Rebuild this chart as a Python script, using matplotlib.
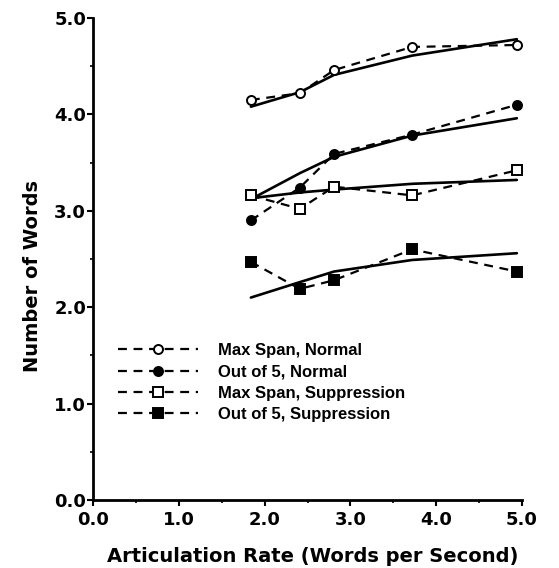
import matplotlib
matplotlib.use("Agg")
import matplotlib.pyplot as plt
from matplotlib.ticker import MultipleLocator, FormatStrFormatter

# ---- data ----
rate = [1.84, 2.41, 2.81, 3.72, 4.94]

max_span_normal = [4.15, 4.22, 4.46, 4.70, 4.72]
out5_normal = [2.90, 3.24, 3.59, 3.79, 4.10]
max_span_supp = [3.16, 3.02, 3.25, 3.16, 3.42]
out5_supp = [2.47, 2.19, 2.28, 2.60, 2.37]

# fitted (solid) curves, read at the same rates
fit_max_span_normal = [4.08, 4.23, 4.41, 4.61, 4.78]
fit_out5_normal = [3.12, 3.39, 3.56, 3.78, 3.96]
fit_max_span_supp = [3.13, 3.19, 3.22, 3.28, 3.32]
fit_out5_supp = [2.10, 2.26, 2.37, 2.49, 2.56]

labels = ["Max Span, Normal", "Out of 5, Normal",
          "Max Span, Suppression", "Out of 5, Suppression"]
xticks = [0, 1, 2, 3, 4, 5]
yticks = [0, 1, 2, 3, 4, 5]

# ---- figure ----
W, H = 559, 568
fig = plt.figure(figsize=(W / 100, H / 100), dpi=100)
ax = fig.add_axes([93 / W, 68 / H, 429 / W, 482 / H])

series = [max_span_normal, out5_normal, max_span_supp, out5_supp]
fits = [fit_max_span_normal, fit_out5_normal, fit_max_span_supp, fit_out5_supp]
markers = ["o", "o", "s", "s"]
faces = ["white", "black", "white", "black"]

handles = []
for ys, fy, m, fc, lab in zip(series, fits, markers, faces, labels):
    ax.plot(rate, fy, color="black", lw=1.9, solid_capstyle="round", zorder=2)
    h, = ax.plot(rate, ys, color="black", lw=1.6, ls=(0, (4, 3)),
                 marker=m, markerfacecolor=fc, markeredgecolor="black",
                 markeredgewidth=1.4, markersize=6.5, label=lab, zorder=3)
    handles.append(h)

ax.set_xlim(0, 5)
ax.set_ylim(0, 5)
ax.set_xticks(xticks)
ax.set_yticks(yticks)
ax.xaxis.set_minor_locator(MultipleLocator(0.5))
ax.yaxis.set_minor_locator(MultipleLocator(0.5))
ax.xaxis.set_major_formatter(FormatStrFormatter("%.1f"))
ax.yaxis.set_major_formatter(FormatStrFormatter("%.1f"))

for s in ["top", "right"]:
    ax.spines[s].set_visible(False)
for s in ["left", "bottom"]:
    ax.spines[s].set_linewidth(2.0)

ax.tick_params(which="major", direction="out", length=4, width=1.5,
               labelsize=13)
ax.tick_params(axis="x", which="major", pad=4)
ax.tick_params(axis="y", which="major", pad=1)
ax.tick_params(which="minor", direction="out", length=2.5, width=1.2)
for lab in ax.get_xticklabels() + ax.get_yticklabels():
    lab.set_fontweight("bold")
    lab.set_family("DejaVu Sans")

fig.text(313 / W, 1 - 556 / H, "Articulation Rate (Words per Second)",
         fontsize=14, fontweight="bold", family="DejaVu Sans",
         ha="center", va="center")
fig.text(33 / W, 1 - 276 / H, "Number of Words", rotation=90,
         fontsize=14, fontweight="bold", family="DejaVu Sans",
         ha="center", va="center")

leg = ax.legend(handles=handles, loc="upper left",
                bbox_to_anchor=((118 - 93) / 429, (500 - 343) / 482),
                frameon=False,
                prop={"family": "Liberation Sans", "weight": "bold", "size": 12},
                handlelength=4.8, handletextpad=1.2, labelspacing=0.38,
                borderpad=0, borderaxespad=0)

fig.savefig("out.png", dpi=100)
